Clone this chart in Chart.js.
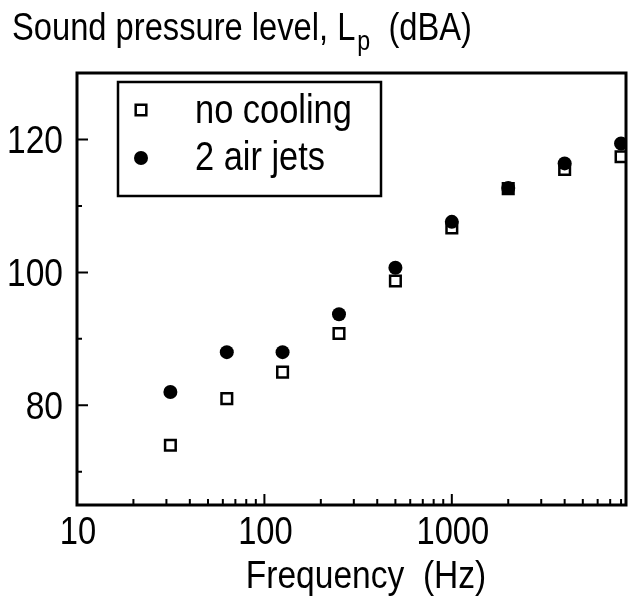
<!DOCTYPE html>
<html>
<head>
<meta charset="utf-8">
<script src="https://cdn.jsdelivr.net/npm/chart.js@4.4.1/dist/chart.umd.min.js"></script>
<style>
  html, body {margin: 0; padding: 0; background: #fff;}
  #wrap {width: 630px; height: 603px;}
</style>
</head>
<body>
<div id="wrap"><canvas id="chart" width="630" height="603"></canvas></div>
<script>
// octave band centre frequencies (Hz)
const frequencies = [31.5, 63, 125, 250, 500, 1000, 2000, 4000, 8000]
const noCooling = [74, 81, 85, 90.8, 98.7, 106.7, 112.6, 115.5, 117.4]
const airJets = [82, 88, 88, 93.7, 100.7, 107.6, 112.7, 116.4, 119.4]

const xTicks = [10, 100, 1000]
const xMinorTicks = [20, 30, 40, 50, 60, 70, 80, 90, 200, 300, 400, 500, 600, 700, 800, 900,
  2000, 3000, 4000, 5000, 6000, 7000, 8000]
const yTicks = [80, 100, 120]
const yMinorTicks = [70, 90, 110]

const FONT = "'Liberation Sans', Arial, sans-serif"
// the original lettering is a bit narrower than Arial
const SQUEEZE = 0.86

const toPoints = ys => frequencies.map((f, i) => ({x: f, y: ys[i]}))

/** Draw narrowed text, returns drawn width. */
function squeezedText(ctx, text, x, y, size, align = 'left') {
  ctx.font = `${size}px ${FONT}`
  const w = ctx.measureText(text).width * SQUEEZE
  const left = align === 'center' ? x - w / 2 : align === 'right' ? x - w : x
  ctx.save()
  ctx.translate(left, y)
  ctx.scale(SQUEEZE, 1)
  ctx.textAlign = 'left'
  ctx.textBaseline = 'alphabetic'
  ctx.fillText(text, 0, 0)
  ctx.restore()
  return w
}

/** frame, inward ticks, labels, title and boxed legend */
const decorations = {
  id: 'decorations',
  afterDraw(chart) {
    const {ctx, chartArea: a, scales: {x, y}} = chart
    ctx.save()
    ctx.strokeStyle = '#000'
    ctx.fillStyle = '#000'

    ctx.lineWidth = 3
    ctx.strokeRect(a.left, a.top, a.right - a.left, a.bottom - a.top)

    ctx.lineWidth = 2
    ctx.beginPath()
    for (const v of xTicks) {
      const px = x.getPixelForValue(v)
      ctx.moveTo(px, a.bottom); ctx.lineTo(px, a.bottom - 11)
    }
    for (const v of xMinorTicks) {
      const px = x.getPixelForValue(v)
      ctx.moveTo(px, a.bottom); ctx.lineTo(px, a.bottom - 6)
    }
    for (const v of yTicks) {
      const py = y.getPixelForValue(v)
      ctx.moveTo(a.left, py); ctx.lineTo(a.left + 11, py)
    }
    for (const v of yMinorTicks) {
      const py = y.getPixelForValue(v)
      ctx.moveTo(a.left, py); ctx.lineTo(a.left + 5, py)
    }
    ctx.stroke()

    // tick labels
    for (const v of xTicks) {
      squeezedText(ctx, String(v), x.getPixelForValue(v) + 1, a.bottom + 39, 38, 'center')
    }
    for (const v of yTicks) {
      squeezedText(ctx, String(v), a.left - 14, y.getPixelForValue(v) + 14, 39, 'right')
    }

    // axis titles
    squeezedText(ctx, 'Frequency  (Hz)', 366, 588, 39, 'center')

    let tx = 12
    const base = 40
    tx += squeezedText(ctx, 'Sound pressure level, L', tx, base, 38)
    tx += squeezedText(ctx, 'p', tx + 2, base + 10, 27) + 2
    squeezedText(ctx, '  (dBA)', tx, base, 38)

    // legend
    const box = {left: 118, top: 82, right: 381, bottom: 196}
    ctx.lineWidth = 2.5
    ctx.strokeRect(box.left, box.top, box.right - box.left, box.bottom - box.top)
    const rows = [{mark: 110, text: 123}, {mark: 158, text: 170}]
    legendOrder.forEach((idx, row) => {
      const ds = chart.data.datasets[idx]
      ctx.fillStyle = ds.backgroundColor
      ctx.strokeStyle = ds.borderColor
      ctx.lineWidth = ds.borderWidth
      Chart.helpers.drawPoint(ctx, {pointStyle: ds.pointStyle, radius: ds.pointRadius,
        borderWidth: ds.borderWidth}, 141, rows[row].mark)
      ctx.fillStyle = '#000'
      squeezedText(ctx, ds.label, 195, rows[row].text, 40)
    })
    ctx.restore()
  },
}

// legend rows: "no cooling" first
const legendOrder = [1, 0]

const datasets = [
  {
    label: '2 air jets',
    data: toPoints(airJets),
    pointStyle: 'circle',
    pointRadius: 7,
    backgroundColor: '#000',
    borderColor: '#000',
    borderWidth: 0,
    order: 0,
  },
  {
    label: 'no cooling',
    data: toPoints(noCooling),
    pointStyle: 'rect',
    pointRadius: 7.5,
    backgroundColor: '#fff',
    borderColor: '#000',
    borderWidth: 2.5,
    order: 1,
  },
]

new Chart('chart', {
  type: 'scatter',
  data: {datasets},
  options: {
    responsive: false,
    animation: false,
    layout: {autoPadding: false, padding: {top: 73, right: 4, left: 0, bottom: 0}},
    plugins: {
      legend: {display: false},
      tooltip: {enabled: false},
    },
    scales: {
      x: {
        type: 'logarithmic',
        min: 10,
        max: 8500,
        afterBuildTicks: scale => {
          scale.ticks = xTicks.map(value => ({value}))
        },
        afterFit: scale => {
          scale.height = 98
          scale.paddingLeft = 0
          scale.paddingRight = 0
        },
        grid: {display: false, drawTicks: false},
        border: {display: false},
        ticks: {display: false},
      },
      y: {
        min: 65,
        max: 130,
        afterBuildTicks: scale => {
          scale.ticks = yTicks.map(value => ({value}))
        },
        afterFit: scale => {
          scale.width = 77
        },
        grid: {display: false, drawTicks: false},
        border: {display: false},
        ticks: {display: false},
      },
    },
  },
  plugins: [decorations],
})
</script>
</body>
</html>
